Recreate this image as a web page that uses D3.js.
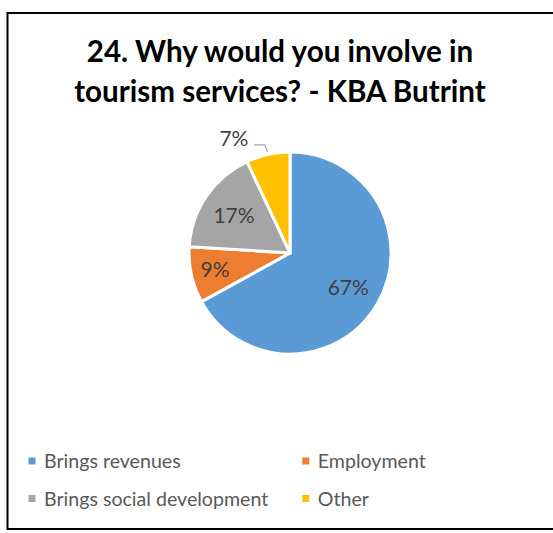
<!DOCTYPE html>
<html>
<head>
<meta charset="utf-8">
<script src="https://cdn.jsdelivr.net/npm/d3@7"></script>
<style>
  html, body { margin: 0; padding: 0; background: #fff; }
  svg { display: block; }
</style>
</head>
<body>
<svg id="chart" width="553" height="533"></svg>
<script>
// Survey answers, share of respondents (%)
const categories = ["Brings revenues", "Employment", "Brings social development", "Other"];
const values = [67, 9, 17, 7];
const valueLabels = ["67%", "9%", "17%", "7%"];
const colors = ["#5B9BD5", "#ED7D31", "#A5A5A5", "#FFC000"];
const titleLines = ["24. Why would you involve in", "tourism services? - KBA Butrint"];

const svg = d3.select("#chart");
const font = "Lato, 'Open Sans', sans-serif";

// chart frame
svg.append("rect")
  .attr("x", 7.5).attr("y", 13)
  .attr("width", 560).attr("height", 516)
  .attr("fill", "#fff")
  .attr("stroke", "#000")
  .attr("stroke-width", 2);

// title
svg.append("g").selectAll("text")
  .data(titleLines)
  .join("text")
  .attr("x", 280)
  .attr("y", (d, i) => 62 + i * 39.5)
  .attr("text-anchor", "middle")
  .attr("font-family", font)
  .attr("font-weight", "bold")
  .attr("font-size", 29.6)
  .attr("fill", "#000")
  .text(d => d);

// pie
const cx = 290, cy = 253, r = 101;
const pie = d3.pie().sort(null).value(d => d)(values);
const arc = d3.arc().innerRadius(0).outerRadius(r);

const g = svg.append("g").attr("transform", `translate(${cx},${cy})`);
g.selectAll("path")
  .data(pie)
  .join("path")
  .attr("d", arc)
  .attr("fill", (d, i) => colors[i])
  .attr("stroke", "#fff")
  .attr("stroke-width", 3)
  .attr("stroke-linejoin", "round");

// inside labels sit on a per-slice radius; the last slice is labelled outside
const labelRadius = [0.67, 0.76, 0.67, null];
const labelColor = "#404040";
const labelSize = 21;
pie.forEach((d, i) => {
  const mid = (d.startAngle + d.endAngle) / 2;
  if (labelRadius[i] !== null) {
    const lr = r * labelRadius[i];
    g.append("text")
      .attr("x", lr * Math.sin(mid))
      .attr("y", -lr * Math.cos(mid))
      .attr("dy", "0.36em")
      .attr("text-anchor", "middle")
      .attr("font-family", font)
      .attr("font-size", labelSize)
      .attr("fill", labelColor)
      .text(valueLabels[i]);
  } else {
    // outside label with a bent leader line
    const er = r + 3;
    const ex = er * Math.sin(mid), ey = -er * Math.cos(mid);
    const kx = ex - 2.4, ky = ey - 6.7;
    const tx = kx - 11;
    g.append("path")
      .attr("d", `M${tx},${ky}L${kx},${ky}L${ex},${ey}`)
      .attr("fill", "none")
      .attr("stroke", "#A6A6A6")
      .attr("stroke-width", 1.2);
    g.append("text")
      .attr("x", tx - 5.5)
      .attr("y", ky - 6)
      .attr("dy", "0.36em")
      .attr("text-anchor", "end")
      .attr("font-family", font)
      .attr("font-size", labelSize)
      .attr("fill", labelColor)
      .text(valueLabels[i]);
  }
});

// legend: two columns, two rows
const legendX = [28.5, 302.3], legendY = [461, 498.5];
const legend = svg.append("g").selectAll("g")
  .data(categories)
  .join("g")
  .attr("transform", (d, i) => `translate(${legendX[i % 2]},${legendY[Math.floor(i / 2)]})`);
legend.append("rect")
  .attr("x", 0).attr("y", -3.5)
  .attr("width", 7).attr("height", 7)
  .attr("fill", (d, i) => colors[i]);
legend.append("text")
  .attr("x", 15.5)
  .attr("dy", "0.36em")
  .attr("font-family", font)
  .attr("font-size", 19.6)
  .attr("fill", "#595959")
  .text(d => d);
</script>
</body>
</html>
